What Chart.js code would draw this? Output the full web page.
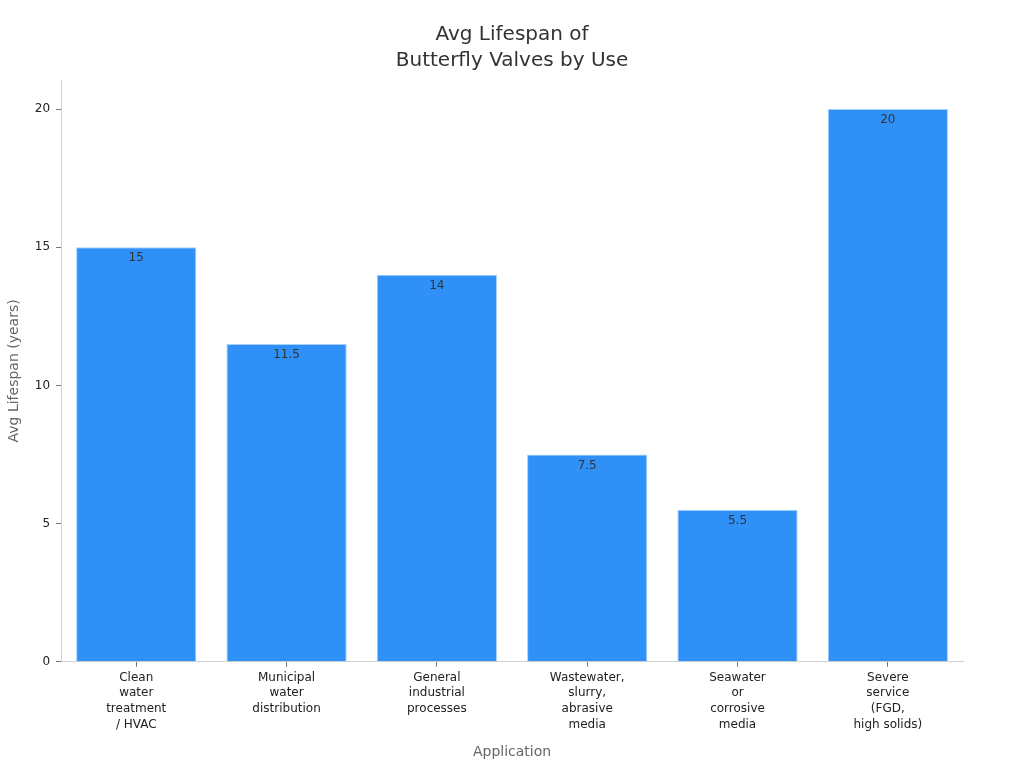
<!DOCTYPE html>
<html>
<head>
<meta charset="utf-8">
<script src="https://cdn.jsdelivr.net/npm/chart.js@4"></script>
<style>
  html, body { margin: 0; padding: 0; background: #fff; }
  #wrap { width: 1024px; height: 768px; }
</style>
</head>
<body>
<div id="wrap"><canvas id="js--lifespan_chart"></canvas></div>
<script>
var applications = [
    ['Clean', 'water', 'treatment', '/ HVAC'],
    ['Municipal', 'water', 'distribution'],
    ['General', 'industrial', 'processes'],
    ['Wastewater,', 'slurry,', 'abrasive', 'media'],
    ['Seawater', 'or', 'corrosive', 'media'],
    ['Severe', 'service', '(FGD,', 'high solids)']
];
var lifespanYears = [15, 11.5, 14, 7.5, 5.5, 20];
var yTicks = [0, 5, 10, 15, 20];

Chart.defaults.font.family = "'DejaVu Sans', sans-serif";

// draws the value just under the top of each bar
var barValues = {
    id: 'barValues',
    afterDatasetsDraw: function (chart) {
        var ctx = chart.ctx;
        var meta = chart.getDatasetMeta(0);
        ctx.save();
        ctx.font = "12px 'DejaVu Sans', sans-serif";
        ctx.fillStyle = '#333333';
        ctx.textAlign = 'center';
        ctx.textBaseline = 'top';
        meta.data.forEach(function (bar, i) {
            ctx.fillText(String(lifespanYears[i]), bar.x, bar.y + 5);
        });
        ctx.restore();
    }
};

var cntxt = document.getElementById('js--lifespan_chart');

var myChart = new Chart(cntxt, {
    type: 'bar',
    data: {
        labels: applications,
        datasets: [
            {
                label: 'Avg Lifespan (years)',
                data: lifespanYears,
                backgroundColor: '#2f91f7',
                borderColor: '#a9d0fb',
                borderWidth: 1,
                barPercentage: 0.8,
                categoryPercentage: 1
            }
        ]
    },
    options: {
        responsive: true,
        maintainAspectRatio: false,
        animation: false,
        layout: { padding: { left: 0, right: 0, top: 0, bottom: 7 } },
        plugins: {
            legend: { display: false },
            tooltip: { enabled: false },
            title: {
                display: true,
                text: ['Avg Lifespan of', 'Butterfly Valves by Use'],
                color: '#333333',
                font: { size: 20, weight: 'normal', lineHeight: 1.3 },
                padding: { top: 22, bottom: 6 }
            }
        },
        scales: {
            x: {
                grid: { display: true, drawOnChartArea: false, offset: false, tickLength: 5, color: '#777777' },
                border: { color: '#d0d0d0' },
                ticks: { color: '#222222', font: { size: 12, lineHeight: 1.3 }, maxRotation: 0, autoSkip: false, padding: 3 },
                title: {
                    display: true,
                    text: 'Application',
                    color: '#666666',
                    font: { size: 14 },
                    padding: { top: 9, bottom: 0 }
                }
            },
            y: {
                min: 0,
                max: 21.05,
                afterBuildTicks: function (axis) {
                    axis.ticks = yTicks.map(function (v) { return { value: v }; });
                },
                grid: { display: true, drawOnChartArea: false, tickLength: 5, color: '#777777' },
                border: { color: '#d0d0d0' },
                ticks: { color: '#222222', font: { size: 12 }, padding: 6 },
                title: {
                    display: true,
                    text: 'Avg Lifespan (years)',
                    color: '#666666',
                    font: { size: 14 },
                    padding: { top: 6, bottom: 6 }
                }
            },
            // empty right-hand axis, only keeps a margin on the right
            yRight: {
                position: 'right',
                display: true,
                grid: { display: false },
                border: { display: false },
                ticks: { display: false },
                afterFit: function (axis) { axis.width = 61; }
            }
        }
    },
    plugins: [barValues]
});
</script>
</body>
</html>
